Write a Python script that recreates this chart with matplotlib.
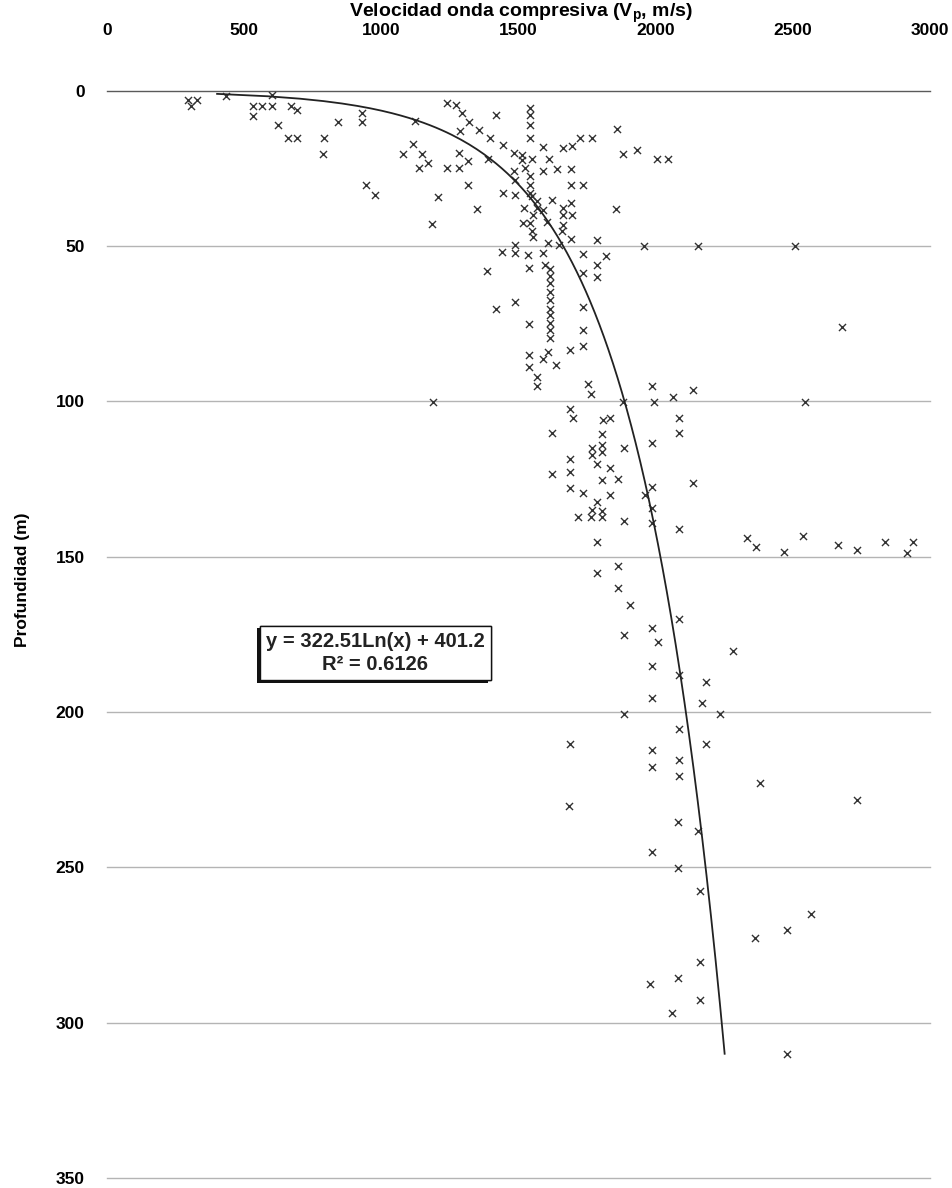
import numpy as np
import matplotlib
matplotlib.use("Agg")
import matplotlib.pyplot as plt
import matplotlib.patheffects as pe

plt.rcParams['font.family'] = ['Liberation Sans', 'DejaVu Sans']
plt.rcParams['font.weight'] = 'bold'

# Vp (m/s) and depth (m) pairs, split by depth band
vp_upper = [296, 327, 305, 434, 603, 533, 564, 603, 533, 670, 691, 624, 661, 694, 791,
            786, 843, 928, 928, 943, 978, 1123, 1238, 1272, 1293, 1320, 1418, 1287, 1357,
            1396, 1445, 1078, 1117, 1147, 1171, 1138, 1238, 1284, 1284, 1317, 1390, 1317,
            1208, 1348, 1186, 1442, 1542, 1542, 1542, 1542, 1485, 1512, 1512, 1548, 1590,
            1663, 1694, 1724, 1767, 1858, 1880, 1933, 2006, 2046, 1612, 1639, 1690, 1524,
            1590, 1485, 1487, 1542, 1690, 1734, 1487, 1542, 1542, 1548, 1566, 1520, 1566,
            1590, 1621, 1690, 1663, 1663, 1694, 1554, 1518, 1542, 1603, 1663, 1657, 1548,
            1554, 1609, 1690, 1787, 1855, 1649]
depth_upper = [3.0, 3.0, 4.9, 1.6, 1.4, 4.9, 4.9, 4.9, 8.1, 4.9, 6.3, 11.1, 15.3, 15.3, 15.3,
               20.3, 9.9, 7.0, 9.9, 30.2, 33.4, 9.7, 4.1, 4.6, 7.3, 9.9, 7.8, 12.9, 12.6,
               15.1, 17.5, 20.3, 17.2, 20.3, 23.2, 25.0, 25.0, 20.0, 25.0, 22.7, 22.1, 30.2,
               34.3, 38.1, 42.8, 32.9, 5.4, 7.8, 11.0, 15.1, 20.0, 20.7, 22.4, 22.1, 18.1,
               18.5, 17.8, 15.1, 15.1, 12.4, 20.3, 19.2, 22.1, 22.1, 22.1, 25.1, 25.1, 25.0,
               25.9, 25.9, 28.6, 27.5, 30.2, 30.2, 33.7, 30.4, 32.9, 34.0, 35.6, 37.8, 37.8,
               38.3, 35.1, 36.1, 37.8, 40.1, 40.1, 40.1, 42.6, 42.6, 42.3, 43.1, 45.3, 45.3,
               47.2, 49.1, 47.7, 48.2, 38.1, 49.8]

vp_middle = [1487, 1439, 1487, 1536, 1590, 1734, 1819, 1957, 2155, 2508, 1539, 1596,
             1615, 1615, 1615, 1615, 1615, 1615, 1615, 1615, 1615, 1615,
             1609, 1590, 1688, 1637, 1539, 1539, 1568, 1568, 1487, 1539, 1736, 1787, 1787,
             1736, 1736, 1736, 1754, 1763, 1985, 2678, 1386, 1418, 1187]
depth_middle = [49.8, 51.8, 52.1, 52.9, 52.1, 52.7, 53.2, 50.0, 50.0, 50.0, 57.2, 56.1,
                57.5, 59.7, 62.0, 64.7, 67.4, 70.1, 72.2, 74.9, 77.0, 79.7,
                84.0, 86.2, 83.3, 88.3, 85.1, 88.9, 92.1, 95.0, 67.9, 75.1, 58.8, 56.1, 59.9,
                69.5, 77.0, 82.2, 94.4, 97.6, 95.0, 76.0, 58.0, 70.1, 100.3]

vp_lower = [1882, 1994, 2062, 2137, 2544, 1688, 1697, 1807, 1833, 1803, 1621, 2085, 2085,
            1803, 1767, 1803, 1767, 1884, 1985, 1688, 1688, 1621, 1787, 1833, 1803, 1864,
            1688, 1736, 1833, 1787, 1767, 1803, 1718, 1763, 1803, 1884, 1961, 1985, 1985,
            1985, 2085, 2137, 1785, 1785, 1864, 1864, 1907, 2085,
            2334, 2366, 2468, 2536, 2666, 2735, 2836, 2917, 2939,
            1985, 1884, 2010, 2281, 1985, 2085, 2183, 1985, 2167, 1884, 2233, 2086, 2183,
            1688, 1985, 1985, 2085, 2085, 2380, 2735, 1684, 2082, 2153, 1985, 2082, 2161,
            2566, 2480, 2362, 2161, 2080, 1981, 2161, 2058, 2480]
depth_lower = [100.1, 100.1, 98.5, 96.4, 100.1, 102.3, 105.2, 106.0, 105.5, 110.5, 110.3,
               105.5, 110.3, 114.1, 115.1, 116.4, 117.1, 115.1, 113.3, 118.4, 122.7, 123.4,
               120.3, 121.4, 125.3, 125.1, 127.8, 129.4, 130.2, 132.3, 135.0, 135.2, 137.3,
               137.3, 137.3, 138.4, 130.2, 127.5, 134.4, 139.3, 141.1, 126.2, 145.4, 155.2,
               152.9, 160.2, 165.4, 170.1,
               144.1, 146.8, 148.4, 143.4, 146.3, 147.9, 145.2, 148.7, 145.2,
               173.1, 175.2, 177.4, 180.3, 185.2, 188.1, 190.3, 195.4, 197.2, 200.5, 200.5,
               205.3, 210.3, 210.3, 212.3, 217.6, 215.3, 220.5, 222.8, 228.4, 230.3, 235.3,
               238.4, 245.0, 250.3, 257.6, 265.1, 270.0, 272.7, 280.4, 285.5, 287.4, 292.8,
               297.0, 310.1]

# log trend fitted in the spreadsheet: Vp = a*ln(z) + b
fit_a = 322.51
fit_b = 401.2
fit_r2 = 0.6126
fit_depth_range = (1.0, 310.0)

x_ticks = [0, 500, 1000, 1500, 2000, 2500, 3000]
y_ticks = [0, 50, 100, 150, 200, 250, 300, 350]

vp = vp_upper + vp_middle + vp_lower
depth = depth_upper + depth_middle + depth_lower

fig = plt.figure(figsize=(9.53, 11.88), dpi=100)
ax = fig.add_axes([0.1123, 0.0084, 0.8636, 0.9152])

ax.scatter(vp, depth, marker='x', s=26, color='#333333', linewidths=1.0, zorder=3)

z = np.linspace(fit_depth_range[0], fit_depth_range[1], 400)
ax.plot(fit_a * np.log(z) + fit_b, z, color='#222222', lw=1.3, zorder=4)

ax.set_xlim(0, 3000)
ax.set_ylim(350, 0)
ax.set_xticks(x_ticks)
ax.set_yticks(y_ticks)
ax.xaxis.tick_top()
ax.tick_params(axis='x', length=0, pad=38, labelsize=12.5)
ax.tick_params(axis='y', length=0, pad=16, labelsize=12.5)

for s in ax.spines.values():
    s.set_visible(False)

ax.yaxis.grid(True, color='#b4b4b4', lw=1.0)
ax.set_axisbelow(True)
for i, line in enumerate(ax.get_ygridlines()):
    line.set_clip_on(False)
    if y_ticks[i] == 0:
        line.set_color('#5a5a5a')

# axis title sits above the top tick labels
fig.text(0.547, 1 - 17 / 1188, 'Velocidad onda compresiva (V$_\\mathregular{p}$, m/s)',
         ha='center', va='baseline', fontsize=14, fontweight='bold')
ax.set_ylabel('Profundidad (m)', fontsize=12.5, fontweight='bold')
ax.yaxis.set_label_coords(-0.094, 0.55)

txt = ax.text(0.326, 0.483,
              'y = {:.2f}Ln(x) + {}\nR² = {}'.format(fit_a, fit_b, fit_r2),
              transform=ax.transAxes, ha='center', va='center', multialignment='center',
              fontsize=14.5, fontweight='bold', color='#222222', linespacing=1.3,
              bbox=dict(boxstyle='square,pad=0.3', facecolor='white',
                        edgecolor='#111111', lw=1.0), zorder=5)
txt.get_bbox_patch().set_path_effects([
    pe.withSimplePatchShadow(offset=(-2, -2), shadow_rgbFace='#111111', alpha=1.0),
    pe.Normal()])

fig.savefig('out.png', dpi=100)
